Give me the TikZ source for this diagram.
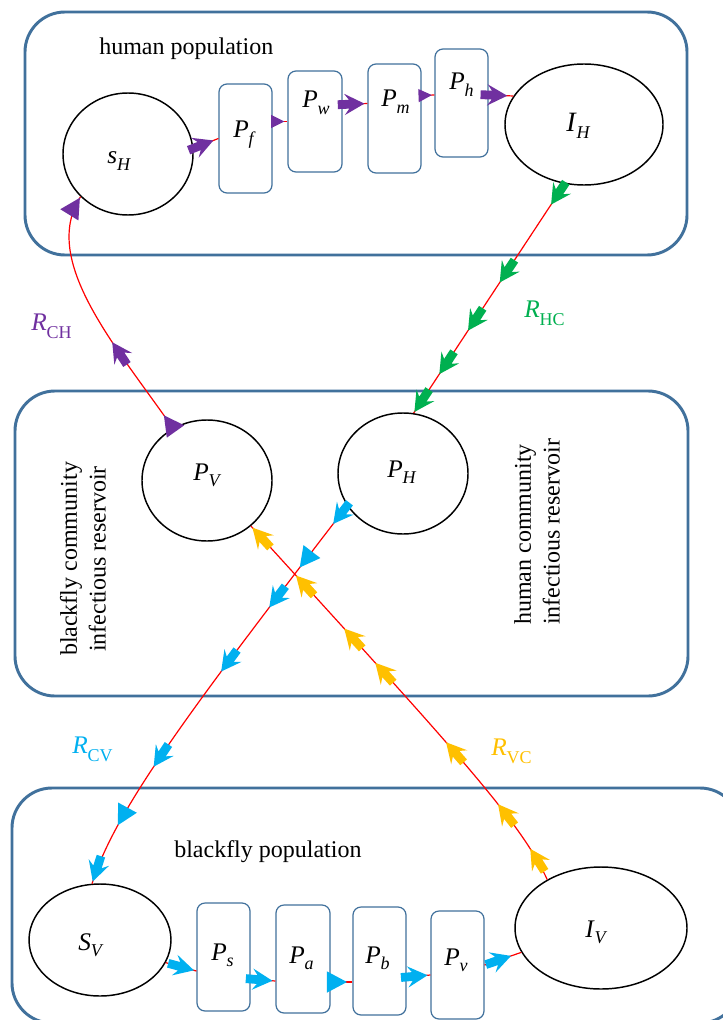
\documentclass[tikz,border=0pt]{standalone}
\usepackage{fontspec}
\setmainfont{Liberation Serif}
\usetikzlibrary{shapes.geometric,decorations.markings,calc}
\definecolor{boxblue}{HTML}{41719C}
\definecolor{cpurple}{HTML}{7030A0}
\definecolor{cgreen}{HTML}{00B050}
\definecolor{ccyan}{HTML}{00B0F0}
\definecolor{corange}{HTML}{FFC000}
\newcommand{\stemarrow}[1]{\fill[#1] (0pt,0pt) -- (-15pt,8pt) -- (-11.5pt,3.3pt) -- (-20pt,3.3pt) -- (-20pt,-3.3pt) -- (-11.5pt,-3.3pt) -- (-15pt,-8pt) -- cycle;}
\newcommand{\headarrow}[1]{\fill[#1] (0pt,0pt) -- (-15pt,8pt) -- (-15pt,-8pt) -- cycle;}
\newcommand{\smallhead}[1]{\fill[#1] (0pt,0pt) -- (-10pt,5pt) -- (-10pt,-5pt) -- cycle;}
\newcommand{\symsub}[2]{\textit{#1}\raisebox{-5pt}{\fontsize{13.5}{13.5}\selectfont\textit{#2}}}
\newcommand{\ratesub}[2]{\textit{#1}\raisebox{-6pt}{\fontsize{13.5}{13.5}\selectfont #2}}
\begin{document}
\begin{tikzpicture}[x=0.75pt,y=-0.75pt,
  popbox/.style={draw=boxblue, line width=2.2pt, rounded corners=30pt},
  comp/.style={draw=black, line width=1.1pt, ellipse, inner sep=0pt},
  stage/.style={draw=boxblue, line width=0.9pt, rounded corners=6pt, rectangle, inner sep=0pt, minimum width=39.75pt, minimum height=81pt},
  txt/.style={font=\fontsize{18}{21.6}\selectfont, inner sep=0pt},
  sym/.style={font=\fontsize{19}{21}\selectfont, inner sep=0pt, anchor=base west},
  flow/.style={draw=red, line width=0.9pt},
]
\useasboundingbox (0,0) rectangle (723,1020);
\fill[white] (0,0) rectangle (723,1020);

% population boxes
\draw[popbox] (25,12) rectangle (687,255);
\draw[popbox] (15,391) rectangle (688,696);
\draw[popbox] (12,788) rectangle (740,1023);

\node[txt, anchor=base west] (humpop) at (99,55) {human population};
\node[txt, anchor=base west] (flypop) at (174,857) {blackfly population};
\node[txt, rotate=90, align=center] (flyres) at (83,559) {blackfly community\\infectious reservoir};
\node[txt, rotate=90, align=left, anchor=west] (humres) at (537,625) {human community\\infectious reservoir};

% compartments (ellipses)
\node[comp, minimum width=97.5pt, minimum height=91.5pt] (sH) at (128,154) {};
\node[comp, minimum width=118.5pt, minimum height=90.75pt] (IH) at (584,124.5) {};
\node[comp, minimum width=97.5pt, minimum height=90.75pt] (PV) at (207,480.5) {};
\node[comp, minimum width=97.5pt, minimum height=90.75pt] (PH) at (403,473.5) {};
\node[comp, minimum width=106.5pt, minimum height=84pt] (SV) at (100,940) {};
\node[comp, minimum width=129pt, minimum height=91.5pt] (IV) at (601,928) {};

% stages
\node[stage, minimum height=81.75pt] (Pf) at (245.5,138.5) {};
\node[stage, minimum width=40.5pt, minimum height=75.75pt] (Pw) at (315,121.5) {};
\node[stage, minimum height=81.75pt] (Pm) at (394.5,118.5) {};
\node[stage] (Ph) at (461.5,103) {};
\node[stage] (Ps) at (223.5,957) {};
\node[stage, minimum width=40.5pt] (Pa) at (303,959) {};
\node[stage] (Pb) at (379.5,961) {};
\node[stage] (Pv) at (457.5,965) {};

% symbol labels
\node[sym] (sHl) at (107,164) {\symsub{s}{H}};
\node[sym, font=\fontsize{21}{23}\selectfont] (IHl) at (566,132) {\symsub{I}{H}};
\node[sym] (PVl) at (193,480) {\symsub{P}{V}};
\node[sym] (PHl) at (387,477) {\symsub{P}{H}};
\node[sym] (SVl) at (78,950) {\symsub{S}{V}};
\node[sym] (IVl) at (585,937) {\symsub{I}{V}};
\node[sym] (Pfl) at (233,138) {\symsub{P}{f}};
\node[sym] (Pwl) at (302,108) {\symsub{P}{w}};
\node[sym] (Pml) at (381,107) {\symsub{P}{m}};
\node[sym] (Phl) at (449,90) {\symsub{P}{h}};
\node[sym] (Psl) at (211,960) {\symsub{P}{s}};
\node[sym] (Pal) at (289,963) {\symsub{P}{a}};
\node[sym] (Pbl) at (365,963) {\symsub{P}{b}};
\node[sym] (Pvl) at (444,965) {\symsub{P}{v}};

% rate labels
\node[sym, text=cpurple] (RCH) at (31,330) {\ratesub{R}{CH}};
\node[sym, text=cgreen] (RHC) at (524,317) {\ratesub{R}{HC}};
\node[sym, text=ccyan] (RCV) at (72,753) {\ratesub{R}{CV}};
\node[sym, text=corange] (RVC) at (491,755) {\ratesub{R}{VC}};

% human chain
\draw[flow, postaction={decorate, decoration={markings, mark=at position 0.8 with {\stemarrow{cpurple}}}}] (sH.5) -- (Pf.west);
\draw[flow, postaction={decorate, decoration={markings, mark=at position 0.8 with {\smallhead{cpurple}}}}] (Pf.east |- Pw.west) -- (Pw.west);
\draw[flow, postaction={decorate, decoration={markings, mark=at position 0.88 with {\stemarrow{cpurple}}}}] ($(Pw.east)+(0,-17)$) -- ($(Pm.west)+(0,-15)$);
\draw[flow, postaction={decorate, decoration={markings, mark=at position 0.8 with {\smallhead{cpurple}}}}] ($(Pm.east)+(0,-23)$) -- ($(Ph.west)+(0,-8)$);
\draw[flow, postaction={decorate, decoration={markings, mark=at position 0.75 with {\stemarrow{cpurple}}}}] ($(Ph.east)+(0,-8)$) -- (IH.158);

% blackfly chain
\draw[flow, postaction={decorate, decoration={markings, mark=at position 0.92 with {\stemarrow{ccyan}}}}] (SV.-19) -- ($(Ps.west)+(0,14)$);
\draw[flow, postaction={decorate, decoration={markings, mark=at position 0.88 with {\stemarrow{ccyan}}}}] ($(Ps.east)+(0,22)$) -- ($(Pa.west)+(0,22)$);
\draw[flow, postaction={decorate, decoration={markings, mark=at position 0.75 with {\headarrow{ccyan}}}}] ($(Pa.east)+(0,23)$) -- ($(Pb.west)+(0,21)$);
\draw[flow, postaction={decorate, decoration={markings, mark=at position 0.88 with {\stemarrow{ccyan}}}}] ($(Pb.east)+(0,16)$) -- ($(Pv.west)+(0,10)$);
\draw[flow, postaction={decorate, decoration={markings, mark=at position 0.72 with {\stemarrow{ccyan}}}}] (Pv.east) -- (IV.-163);

% R_CH : P_V -> s_H
\draw[flow, postaction={decorate, decoration={markings,
   mark=at position 0.06 with {\headarrow{cpurple}},
   mark=at position 0.4 with {\stemarrow{cpurple}},
   mark=at position 0.995 with {\headarrow{cpurple}}}}]
  (PV.123) .. controls (115,345) and (40,260) .. (sH.-138);

% R_HC : I_H -> P_H
\draw[flow, postaction={decorate, decoration={markings,
   mark=at position 0.09 with {\stemarrow{cgreen}},
   mark=at position 0.43 with {\stemarrow{cgreen}},
   mark=at position 0.64 with {\stemarrow{cgreen}},
   mark=at position 0.83 with {\stemarrow{cgreen}},
   mark=at position 0.995 with {\stemarrow{cgreen}}}}]
  (IH.-108) -- (PH.80);

% R_CV : P_H -> S_V
\draw[flow, postaction={decorate, decoration={markings,
   mark=at position 0.05 with {\stemarrow{ccyan}},
   mark=at position 0.17 with {\headarrow{ccyan}},
   mark=at position 0.28 with {\stemarrow{ccyan}},
   mark=at position 0.455 with {\stemarrow{ccyan}},
   mark=at position 0.71 with {\stemarrow{ccyan}},
   mark=at position 0.86 with {\headarrow{ccyan}},
   mark=at position 0.995 with {\stemarrow{ccyan}}}}]
  (PH.-150) .. controls (190,710) and (115,810) .. (SV.98);

% R_VC : I_V -> P_V
\draw[flow, postaction={decorate, decoration={markings,
   mark=at position 0.076 with {\stemarrow{corange}},
   mark=at position 0.195 with {\stemarrow{corange}},
   mark=at position 0.37 with {\stemarrow{corange}},
   mark=at position 0.60 with {\stemarrow{corange}},
   mark=at position 0.70 with {\stemarrow{corange}},
   mark=at position 0.855 with {\stemarrow{corange}},
   mark=at position 0.995 with {\stemarrow{corange}}}}]
  (IV.138) .. controls (520,820) and (452,747) .. (PV.-46);
\end{tikzpicture}
\end{document}
